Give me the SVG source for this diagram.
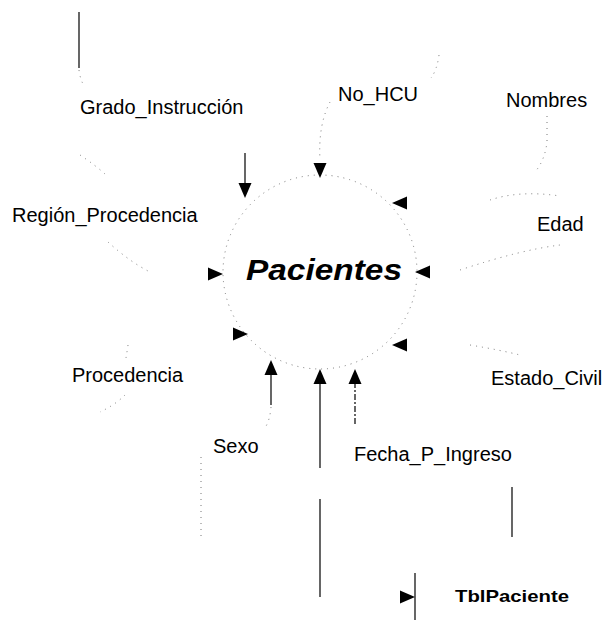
<svg xmlns="http://www.w3.org/2000/svg" width="605" height="620" viewBox="0 0 605 620">
<style>
.lbl{font-family:"Liberation Sans",Arial,sans-serif;font-size:20px;fill:#000}
.ln{stroke:#000;stroke-width:1.2;fill:none}
.fz{stroke:#777;stroke-width:1;fill:none;stroke-dasharray:1 5}
.dsh{stroke:#000;stroke-width:1.2;fill:none;stroke-dasharray:6 2 2 2}
.ah{fill:#000}
</style>
<defs>
<path id="ah" d="M-15,-6.5 L0,0 L-15,6.5 Z"/>
</defs>
<rect width="605" height="620" fill="#fff"/>
<g id="Pacientes">
<circle cx="320" cy="272" r="97" class="fz"/>
<text x="246" y="280" font-family="Liberation Sans,Arial,sans-serif" font-size="30" font-weight="bold" font-style="italic" textLength="156" lengthAdjust="spacingAndGlyphs">Pacientes</text>
</g>
<g id="Grado_Instruccion"><text class="lbl" x="80" y="114">Grado_Instrucción</text></g>
<g id="No_HCU"><text class="lbl" x="338" y="101">No_HCU</text></g>
<g id="Nombres"><text class="lbl" x="506" y="107">Nombres</text></g>
<g id="Region_Procedencia"><text class="lbl" x="12" y="222">Región_Procedencia</text></g>
<g id="Edad"><text class="lbl" x="537" y="231">Edad</text></g>
<g id="Procedencia"><text class="lbl" x="72" y="382">Procedencia</text></g>
<g id="Estado_Civil"><text class="lbl" x="491" y="385">Estado_Civil</text></g>
<g id="Sexo"><text class="lbl" x="213" y="453">Sexo</text></g>
<g id="Fecha_P_Ingreso"><text class="lbl" x="354" y="461">Fecha_P_Ingreso</text></g>
<g id="TblPaciente"><text x="455" y="602" font-family="Liberation Sans,Arial,sans-serif" font-size="17" font-weight="bold" textLength="114" lengthAdjust="spacingAndGlyphs">TblPaciente</text></g>
<g id="connectors">
<path class="ln" d="M79,12 V68"/>
<path class="fz" d="M79,70 Q80,78 83,84"/>
<path class="ln" d="M245,153 V185"/>
<use href="#ah" class="ah" transform="translate(245,198) rotate(90)"/>
<path class="fz" d="M80,155 Q95,165 105,174"/>
<path class="fz" d="M439,55 Q437,70 431,78"/>
<path class="fz" d="M330,102 Q318,125 320,160"/>
<use href="#ah" class="ah" transform="translate(320,178) rotate(90)"/>
<path class="fz" d="M547,116 V142 Q545,160 535,172"/>
<use href="#ah" class="ah" transform="translate(392,203) rotate(180)"/>
<path class="fz" d="M490,200 Q520,190 560,196"/>
<path class="fz" d="M108,242 Q130,262 150,272"/>
<use href="#ah" class="ah" transform="translate(223,274)"/>
<use href="#ah" class="ah" transform="translate(415,272) rotate(180)"/>
<path class="fz" d="M460,270 Q520,250 560,245"/>
<use href="#ah" class="ah" transform="translate(248,334)"/>
<use href="#ah" class="ah" transform="translate(392,345) rotate(180)"/>
<path class="fz" d="M470,345 Q500,350 520,355"/>
<path class="fz" d="M128,345 Q127,352 126,358"/>
<path class="fz" d="M125,395 Q115,405 100,412"/>
<use href="#ah" class="ah" transform="translate(271,360) rotate(-90)"/>
<path class="ln" d="M271,373 V405"/>
<path class="fz" d="M271,407 Q270,420 265,428"/>
<use href="#ah" class="ah" transform="translate(320,369) rotate(-90)"/>
<path class="ln" d="M320,382 V468 M320,499 V597"/>
<use href="#ah" class="ah" transform="translate(355,369) rotate(-90)"/>
<path class="dsh" d="M355,382 V424"/>
<path class="fz" d="M201,457 V537"/>
<path class="ln" d="M512,487 V537"/>
<path class="ln" d="M415,573 V620"/>
<use href="#ah" class="ah" transform="translate(415,597)"/>
</g>
</svg>
